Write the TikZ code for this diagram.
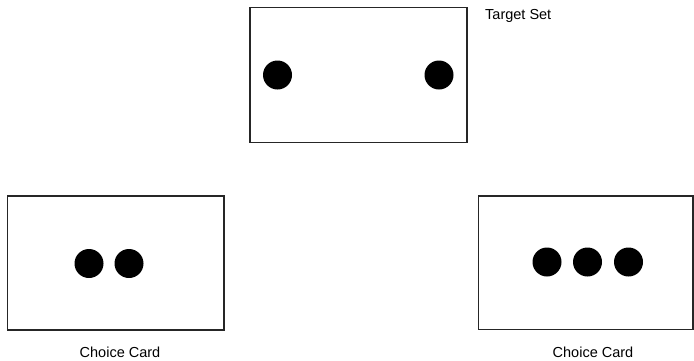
\documentclass[tikz,border=0pt]{standalone}
\usepackage{fontspec}
\setmainfont{Liberation Sans}
\begin{document}
\begin{tikzpicture}[x=1pt,y=-1pt,
  card/.style={draw=black!85,line width=1.3pt},
  dot/.style={circle,fill=black,inner sep=0pt,minimum size=29pt},
  lbl/.style={font=\fontsize{14.5}{16}\selectfont,inner sep=0pt}]
\useasboundingbox (0,0) rectangle (694,360);
\draw[card] (250,7.5) rectangle (467,142.5);
\draw[card] (7.5,196) rectangle (224,330);
\draw[card] (478.5,196) rectangle (693,329.5);
\node[dot] (t1) at (277.5,75) {};
\node[dot] (t2) at (439,75) {};
\node[dot] (l1) at (89,263.5) {};
\node[dot] (l2) at (129,263.5) {};
\node[dot] (r1) at (547,262) {};
\node[dot] (r2) at (587.5,262) {};
\node[dot] (r3) at (628.5,262) {};
\node[lbl,anchor=west] (ts) at (485,16) {Target Set};
\node[lbl] (lc) at (120,352) {Choice Card};
\node[lbl] (rc) at (593,352) {Choice Card};
\end{tikzpicture}
\end{document}
